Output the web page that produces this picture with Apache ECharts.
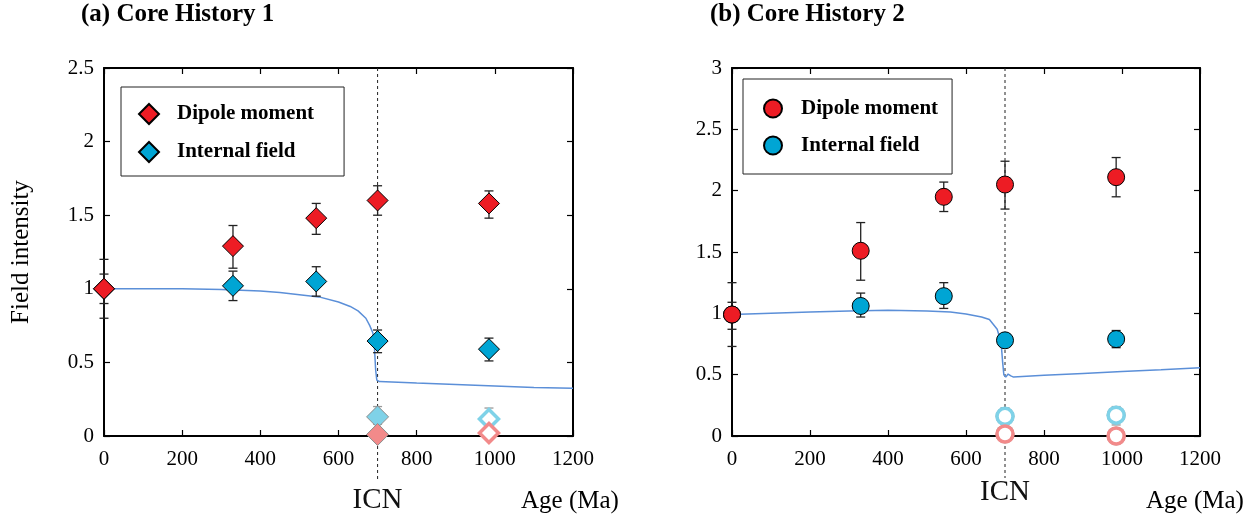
<!DOCTYPE html>
<html>
<head>
<meta charset="utf-8">
<script src="https://cdn.jsdelivr.net/npm/echarts@6/dist/echarts.min.js"></script>
<style>html,body{margin:0;padding:0;background:#fff}#c{width:1256px;height:523px}</style>
</head>
<body>
<div id="c"></div>
<script>
// ---------- data ----------
const xTicks = [0, 200, 400, 600, 800, 1000, 1200];
const icnAge = 700;

// Panel (a) Core History 1
const ageA = [0, 330, 543, 700, 985];
const dipoleA = [1.0, 1.29, 1.48, 1.60, 1.58];
const dipoleA_lo = [0.8, 1.14, 1.37, 1.50, 1.48];
const dipoleA_hi = [1.2, 1.43, 1.58, 1.70, 1.665];
const internalA = [1.0, 1.02, 1.05, 0.645, 0.59];
const internalA_lo = [0.9, 0.92, 0.95, 0.566, 0.51];
const internalA_hi = [1.1, 1.12, 1.15, 0.72, 0.665];
const fadedAgeA = [700, 985];
const fadedInternalA = [0.13, 0.115];
const fadedInternalA_lo = [0.08, 0.06];
const fadedInternalA_hi = [0.20, 0.19];
const fadedDipoleA = [0.01, 0.02];
const modelAgeA = [0, 100, 200, 300, 400, 450, 500, 550, 600, 630, 650, 670, 680, 688, 692, 695, 698, 705, 800, 900, 1000, 1100, 1200];
const modelA = [1.0, 1.0, 1.0, 0.995, 0.985, 0.975, 0.96, 0.945, 0.91, 0.88, 0.85, 0.80, 0.75, 0.70, 0.60, 0.45, 0.38, 0.37, 0.36, 0.35, 0.34, 0.33, 0.325];

// Panel (b) Core History 2
const ageB = [0, 330, 543, 700, 985];
const dipoleB = [0.99, 1.51, 1.95, 2.05, 2.11];
const dipoleB_lo = [0.73, 1.27, 1.83, 1.85, 1.95];
const dipoleB_hi = [1.25, 1.74, 2.07, 2.24, 2.27];
const internalB = [0.99, 1.06, 1.14, 0.78, 0.79];
const internalB_lo = [0.87, 0.97, 1.04, 0.76, 0.72];
const internalB_hi = [1.09, 1.165, 1.25, 0.80, 0.86];
const fadedAgeB = [700, 985];
const fadedInternalB = [0.16, 0.17];
const fadedInternalB_lo = [0.10, 0.09];
const fadedInternalB_hi = [0.23, 0.24];
const fadedDipoleB = [0.016, 0.0];
const modelAgeB = [0, 100, 200, 300, 400, 500, 560, 600, 640, 660, 680, 690, 694, 697, 702, 708, 715, 722, 800, 900, 1000, 1100, 1200];
const modelB = [0.99, 1.0, 1.01, 1.02, 1.025, 1.02, 1.01, 0.995, 0.97, 0.95, 0.87, 0.76, 0.60, 0.50, 0.48, 0.505, 0.49, 0.48, 0.495, 0.51, 0.525, 0.54, 0.557];

// ---------- styles ----------
const FONT = '"Liberation Serif", "Times New Roman", serif';
const RED = '#ed1c24', BLUE = '#00a5d4';
const LRED = '#f28a8a', LBLUE = '#7fd2e8', GREY = '#8c8c8c';
const LINE = '#5b8fd8';

function pairs(xs, ys) { return xs.map((x, i) => [x, ys[i]]); }

function errBars(xi, yi, xs, lo, hi, color, z) {
  return {
    type: 'custom', xAxisIndex: xi, yAxisIndex: yi, clip: false, z: z, silent: true,
    data: xs.map((x, i) => [x, lo[i], hi[i]]),
    encode: { x: 0, y: [1, 2] },
    renderItem: function (params, api) {
      const x = api.value(0);
      const a = api.coord([x, api.value(1)]);
      const b = api.coord([x, api.value(2)]);
      const c = 4.5;
      const st = { stroke: color, lineWidth: 1.3 };
      return { type: 'group', children: [
        { type: 'line', shape: { x1: a[0], y1: a[1], x2: b[0], y2: b[1] }, style: st },
        { type: 'line', shape: { x1: a[0] - c, y1: a[1], x2: a[0] + c, y2: a[1] }, style: st },
        { type: 'line', shape: { x1: b[0] - c, y1: b[1], x2: b[0] + c, y2: b[1] }, style: st }
      ]};
    }
  };
}

function icnLine(xi, yi, ymax, extra, textGap) {
  return {
    type: 'custom', xAxisIndex: xi, yAxisIndex: yi, clip: false, z: 1, silent: true,
    data: [[icnAge]],
    renderItem: function (params, api) {
      const top = api.coord([api.value(0), ymax]);
      const bot = api.coord([api.value(0), 0]);
      return { type: 'group', children: [
        { type: 'line', shape: { x1: top[0], y1: top[1], x2: bot[0], y2: bot[1] + extra },
          style: { stroke: '#222', lineWidth: 1, lineDash: [3, 3] } },
        { type: 'text', x: bot[0], y: bot[1] + textGap,
          style: { text: 'ICN', font: '29px ' + FONT, fill: '#111', align: 'center', verticalAlign: 'middle' } }
      ]};
    }
  };
}

function scatter(xi, yi, name, data, symbol, size, style, z) {
  return { type: 'scatter', name: name, xAxisIndex: xi, yAxisIndex: yi, clip: false, z: z,
    symbol: symbol, symbolSize: size, data: data, itemStyle: Object.assign({ opacity: 1 }, style),
    emphasis: { disabled: true } };
}

function axesFor(gridIndex, ymax) {
  const tickStyle = { show: true, inside: true, length: 6, lineStyle: { color: '#000', width: 1.2 } };
  const lineStyle = { show: true, onZero: false, lineStyle: { color: '#000', width: 2 } };
  const fmt = v => String(v);
  return {
    x: [
      { type: 'value', gridIndex, min: 0, max: 1200, interval: 200, position: 'bottom',
        axisLine: lineStyle, axisTick: tickStyle, splitLine: { show: false },
        axisLabel: { color: '#000', fontFamily: FONT, fontSize: 21, margin: 13, formatter: fmt } },
      { type: 'value', gridIndex, min: 0, max: 1200, interval: 200, position: 'top',
        axisLine: lineStyle, axisTick: tickStyle, splitLine: { show: false }, axisLabel: { show: false } }
    ],
    y: [
      { type: 'value', gridIndex, min: 0, max: ymax, interval: 0.5, position: 'left',
        axisLine: lineStyle, axisTick: tickStyle, splitLine: { show: false },
        axisLabel: { color: '#000', fontFamily: FONT, fontSize: 21, margin: 10, formatter: fmt } },
      { type: 'value', gridIndex, min: 0, max: ymax, interval: 0.5, position: 'right',
        axisLine: lineStyle, axisTick: tickStyle, splitLine: { show: false }, axisLabel: { show: false } }
    ]
  };
}

const axA = axesFor(0, 2.5), axB = axesFor(1, 3);
axA.y[0].name = 'Field intensity';
axA.y[0].nameLocation = 'middle';
axA.y[0].nameGap = 70;
axA.y[0].nameTextStyle = { fontFamily: FONT, fontSize: 25, color: '#000' };

const mainStyle = c => ({ color: c, borderColor: '#000', borderWidth: 1 });
const filledFaded = c => ({ color: c, borderColor: GREY, borderWidth: 1, opacity: 1 });
const hollowFaded = c => ({ color: '#fff', borderColor: c, borderWidth: 3.5, opacity: 1 });

const series = [
  // Panel a
  icnLine(0, 0, 2.5, 46, 64),
  { type: 'line', xAxisIndex: 0, yAxisIndex: 0, data: pairs(modelAgeA, modelA), showSymbol: false, symbol: 'none',
    lineStyle: { color: LINE, width: 1.5 }, z: 2, silent: true },
  errBars(0, 0, fadedAgeA, fadedInternalA_lo, fadedInternalA_hi, '#999', 3),
  scatter(0, 0, 'fadedOutlineA', [[fadedAgeA[1], fadedInternalA[1]], [fadedAgeA[1], fadedDipoleA[1]]], 'diamond', 22, { color: GREY }, 4),
  scatter(0, 0, 'fadedIntA', [
    { value: [fadedAgeA[0], fadedInternalA[0]], itemStyle: filledFaded(LBLUE) },
    { value: [fadedAgeA[1], fadedInternalA[1]], symbolSize: 19, itemStyle: hollowFaded(LBLUE) }
  ], 'diamond', 22, {}, 5),
  scatter(0, 0, 'fadedDipA', [
    { value: [fadedAgeA[0], fadedDipoleA[0]], itemStyle: filledFaded(LRED) },
    { value: [fadedAgeA[1], fadedDipoleA[1]], symbolSize: 19, itemStyle: hollowFaded(LRED) }
  ], 'diamond', 22, {}, 6),
  errBars(0, 0, ageA, internalA_lo, internalA_hi, '#222', 7),
  errBars(0, 0, ageA, dipoleA_lo, dipoleA_hi, '#222', 7),
  scatter(0, 0, 'Internal field', pairs(ageA, internalA), 'diamond', 21, mainStyle(BLUE), 8),
  scatter(0, 0, 'Dipole moment', pairs(ageA, dipoleA), 'diamond', 21, mainStyle(RED), 9),

  // Panel b
  icnLine(2, 2, 3, 42, 56),
  { type: 'line', xAxisIndex: 2, yAxisIndex: 2, data: pairs(modelAgeB, modelB), showSymbol: false, symbol: 'none',
    lineStyle: { color: LINE, width: 1.5 }, z: 2, silent: true },
  errBars(2, 2, fadedAgeB, fadedInternalB_lo, fadedInternalB_hi, '#999', 3),
  scatter(2, 2, 'fadedOutlineB', pairs(fadedAgeB, fadedInternalB).concat(pairs(fadedAgeB, fadedDipoleB)), 'circle', 19, { color: '#a0a0a0' }, 4),
  scatter(2, 2, 'fadedIntB', pairs(fadedAgeB, fadedInternalB), 'circle', 16, hollowFaded(LBLUE), 5),
  scatter(2, 2, 'fadedDipB', pairs(fadedAgeB, fadedDipoleB), 'circle', 16, hollowFaded(LRED), 6),
  errBars(2, 2, ageB, internalB_lo, internalB_hi, '#222', 7),
  errBars(2, 2, ageB, dipoleB_lo, dipoleB_hi, '#222', 7),
  scatter(2, 2, 'Internal field', pairs(ageB, internalB), 'circle', 17, mainStyle(BLUE), 8),
  scatter(2, 2, 'Dipole moment', pairs(ageB, dipoleB), 'circle', 17, mainStyle(RED), 9)
];

const legendText = { fontFamily: FONT, fontSize: 21, fontWeight: 'bold', color: '#000' };

const option = {
  animation: false,
  backgroundColor: '#fff',
  grid: [
    { left: 104, right: 683, top: 68, height: 368 },
    { left: 732, right: 56, top: 68, height: 368 }
  ],
  xAxis: axA.x.concat(axB.x),
  yAxis: axA.y.concat(axB.y),
  legend: [
    { left: 121, top: 87, orient: 'vertical', itemWidth: 20, itemHeight: 20, itemGap: 16,
      padding: [16, 30, 13, 17], borderColor: '#222', borderWidth: 1, selectedMode: false,
      textStyle: Object.assign({ padding: [0, 0, 0, 13] }, legendText),
      data: [{ name: 'Dipole moment', icon: 'diamond' }, { name: 'Internal field', icon: 'diamond' }] },
    { left: 743, top: 79, orient: 'vertical', itemWidth: 18, itemHeight: 18, itemGap: 16,
      padding: [19, 14, 18, 20], borderColor: '#222', borderWidth: 1, selectedMode: false,
      textStyle: Object.assign({ padding: [0, 0, 0, 14] }, legendText),
      data: [{ name: 'Dipole moment', icon: 'circle' }, { name: 'Internal field', icon: 'circle' }] }
  ],
  graphic: [
    { type: 'text', left: 81, top: 2, style: { text: '(a) Core History 1', font: 'bold 25px ' + FONT, fill: '#000' } },
    { type: 'text', left: 710, top: 2, style: { text: '(b) Core History 2', font: 'bold 25px ' + FONT, fill: '#000' } },
    { type: 'text', left: 521, top: 489, style: { text: 'Age (Ma)', font: '25px ' + FONT, fill: '#000' } },
    { type: 'text', left: 1146, top: 489, style: { text: 'Age (Ma)', font: '25px ' + FONT, fill: '#000' } }
  ],
  series: series
};

const chart = echarts.init(document.getElementById('c'), null, { renderer: 'canvas' });
chart.setOption(option);
</script>
</body>
</html>
